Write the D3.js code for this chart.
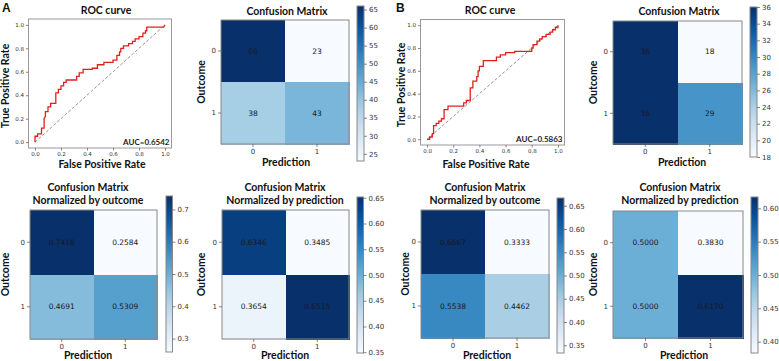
<!DOCTYPE html>
<html><head><meta charset="utf-8">
<script src="https://cdn.jsdelivr.net/npm/d3@7"></script>
<style>
html,body{margin:0;padding:0;background:#fff;}
svg{display:block;}
</style></head><body>
<svg id="chart" width="779" height="361"></svg>
<script>
// ---------------- data ----------------
const rocTicks = [0, 0.2, 0.4, 0.6, 0.8, 1.0];
const rocA_fpr = [0,0,0.02,0.02,0.05,0.05,0.07,0.07,0.08,0.08,0.10,0.10,0.12,0.12,0.16,0.16,0.18,0.18,0.20,0.20,0.22,0.22,0.24,0.24,0.32,0.32,0.34,0.34,0.37,0.37,0.44,0.44,0.48,0.48,0.53,0.53,0.60,0.60,0.63,0.63,0.65,0.65,0.66,0.66,0.68,0.68,0.72,0.72,0.75,0.75,0.77,0.77,0.80,0.80,0.83,0.83,0.85,0.85,0.86,0.86,0.99,1.0];
const rocA_tpr = [0,0.05,0.05,0.07,0.07,0.12,0.12,0.20,0.22,0.26,0.26,0.30,0.30,0.33,0.33,0.42,0.42,0.45,0.45,0.48,0.48,0.51,0.51,0.53,0.53,0.56,0.56,0.59,0.59,0.62,0.62,0.63,0.63,0.66,0.66,0.68,0.68,0.70,0.70,0.74,0.74,0.77,0.77,0.80,0.80,0.82,0.82,0.84,0.84,0.86,0.86,0.88,0.88,0.90,0.90,0.93,0.93,0.95,0.95,0.98,0.98,1.0];
const rocA_auc = "AUC=0.6542";
const rocB_fpr = [0,0.02,0.02,0.04,0.04,0.05,0.05,0.07,0.07,0.09,0.09,0.11,0.11,0.13,0.13,0.16,0.16,0.28,0.28,0.30,0.30,0.33,0.33,0.35,0.35,0.38,0.38,0.39,0.39,0.40,0.40,0.43,0.43,0.53,0.53,0.56,0.56,0.60,0.60,0.67,0.67,0.80,0.80,0.81,0.81,0.84,0.84,0.86,0.86,0.88,0.88,0.91,0.91,0.94,0.94,0.96,0.96,0.98,0.98,1.0,1.0];
const rocB_tpr = [0,0,0.02,0.02,0.05,0.05,0.12,0.12,0.14,0.14,0.16,0.16,0.18,0.18,0.26,0.26,0.29,0.29,0.32,0.32,0.34,0.34,0.45,0.45,0.51,0.51,0.55,0.55,0.60,0.60,0.64,0.64,0.69,0.69,0.72,0.72,0.74,0.74,0.76,0.76,0.77,0.77,0.80,0.80,0.83,0.83,0.86,0.86,0.88,0.88,0.90,0.90,0.92,0.92,0.94,0.94,0.96,0.96,0.98,0.98,1.0];
const rocB_auc = "AUC=0.5863";

const classLabels = ["0", "1"];
const cmA_counts       = [[66, 23], [38, 43]];
const cmA_byOutcome    = [[0.7416, 0.2584], [0.4691, 0.5309]];
const cmA_byPrediction = [[0.6346, 0.3485], [0.3654, 0.6515]];
const cmB_counts       = [[36, 18], [36, 29]];
const cmB_byOutcome    = [[0.6667, 0.3333], [0.5538, 0.4462]];
const cmB_byPrediction = [[0.5000, 0.3830], [0.5000, 0.6170]];

const cbTicksA_counts     = [25, 30, 35, 40, 45, 50, 55, 60, 65];
const cbTicksA_outcome    = [0.3, 0.4, 0.5, 0.6, 0.7];
const cbTicksA_prediction = [0.35, 0.40, 0.45, 0.50, 0.55, 0.60, 0.65];
const cbTicksB_counts     = [18, 20, 22, 24, 26, 28, 30, 32, 34, 36];
const cbTicksB_outcome    = [0.35, 0.40, 0.45, 0.50, 0.55, 0.60, 0.65];
const cbTicksB_prediction = [0.40, 0.45, 0.50, 0.55, 0.60];

// ---------------- drawing ----------------
const BLUES = ["#f7fbff","#deebf7","#c6dbef","#9ecae1","#6baed6","#4292c6","#2171b5","#08519c","#08306b"];
const svg = d3.select("#chart");
const LABEL_FONT = "Lato, 'Open Sans', sans-serif";
const TICK_FONT = "'DejaVu Sans', sans-serif";
let gradId = 0;

function styleAxis(g, size) {
  g.select(".domain").remove();
  g.selectAll(".tick line").attr("stroke", "#555").attr("stroke-width", 0.7);
  g.selectAll(".tick text").attr("font-family", TICK_FONT).attr("font-size", size).attr("fill", "#333");
}

function boldText(x, y, txt, size, rotate) {
  const t = svg.append("text")
    .attr("font-family", LABEL_FONT).attr("font-weight", "bold")
    .attr("font-size", size).attr("fill", "#111")
    .attr("text-anchor", "middle").text(txt);
  if (rotate) t.attr("transform", `translate(${x},${y}) rotate(-90)`);
  else t.attr("x", x).attr("y", y);
  return t;
}

function drawROC(o) {
  const x = d3.scaleLinear().domain([-0.05, 1.05]).range([o.L, o.R]);
  const y = d3.scaleLinear().domain([-0.05, 1.05]).range([o.B, o.T]);
  const g = svg.append("g");
  g.append("line")
    .attr("x1", x(0)).attr("y1", y(0)).attr("x2", x(1)).attr("y2", y(1))
    .attr("stroke", "#777").attr("stroke-width", 0.8).attr("stroke-dasharray", "3,2");
  const pts = o.fpr.map((f, i) => [f, o.tpr[i]]);
  g.append("path").datum(pts)
    .attr("d", d3.line().x(d => x(d[0])).y(d => y(d[1])))
    .attr("fill", "none").attr("stroke", "#e0201c").attr("stroke-width", 1.3);
  g.append("rect").attr("x", o.L).attr("y", o.T).attr("width", o.R - o.L).attr("height", o.B - o.T)
    .attr("fill", "none").attr("stroke", "#999").attr("stroke-width", 1);
  const ax = g.append("g").attr("transform", `translate(0,${o.B})`)
    .call(d3.axisBottom(x).tickValues(rocTicks).tickFormat(d3.format(".1f")).tickSize(2.5).tickPadding(2));
  styleAxis(ax, 5.5);
  const ay = g.append("g").attr("transform", `translate(${o.L},0)`)
    .call(d3.axisLeft(y).tickValues(rocTicks).tickFormat(d3.format(".1f")).tickSize(2.5).tickPadding(2));
  styleAxis(ay, 5.5);
  g.append("text").attr("x", o.R - 2).attr("y", o.B - 3)
    .attr("text-anchor", "end").attr("font-family", LABEL_FONT).attr("font-weight", "bold")
    .attr("font-size", 8).attr("fill", "#222").text(o.auc);
  boldText(o.titleX, 14, "ROC curve", 10.5);
  boldText(o.xlabX, 168, "False Positive Rate", 10.5);
  boldText(o.ylabX, o.ylabY, "True Positive Rate", 10.5, true);
  svg.append("text").attr("x", o.letterX).attr("y", 11.5)
    .attr("font-family", "'Liberation Sans', Arial, sans-serif").attr("font-weight", "bold")
    .attr("font-size", 12).attr("fill", "#111").text(o.letter);
}

function drawCM(o) {
  const vals = o.values.flat();
  const vmin = d3.min(vals), vmax = d3.max(vals);
  const color = d3.scaleLinear()
    .domain(BLUES.map((c, k) => vmin + (vmax - vmin) * k / (BLUES.length - 1)))
    .range(BLUES).interpolate(d3.interpolateRgb);
  const x = d3.scaleBand().domain(classLabels).range([o.L, o.L + o.W]);
  const y = d3.scaleBand().domain(classLabels).range([o.T, o.T + o.H]);
  const g = svg.append("g");
  const cells = [];
  o.values.forEach((row, i) => row.forEach((v, j) => cells.push({ i, j, v })));
  g.selectAll("rect.cell").data(cells).join("rect").attr("class", "cell")
    .attr("x", d => x(classLabels[d.j])).attr("y", d => y(classLabels[d.i]))
    .attr("width", x.bandwidth() + 0.5).attr("height", y.bandwidth() + 0.5)
    .attr("shape-rendering", "crispEdges")
    .attr("fill", d => color(d.v));
  g.selectAll("text.cell").data(cells).join("text").attr("class", "cell")
    .attr("x", d => x(classLabels[d.j]) + x.bandwidth() / 2)
    .attr("y", d => y(classLabels[d.i]) + y.bandwidth() / 2)
    .attr("dy", "0.35em").attr("text-anchor", "middle")
    .attr("font-family", TICK_FONT).attr("font-size", 7.5).attr("fill", "#1a1a1a")
    .text(d => o.fmt(d.v));
  g.append("rect").attr("x", o.L).attr("y", o.T).attr("width", o.W).attr("height", o.H)
    .attr("fill", "none").attr("stroke", "#888").attr("stroke-width", 1);
  const ax = g.append("g").attr("transform", `translate(0,${o.T + o.H})`)
    .call(d3.axisBottom(x).tickSize(3).tickPadding(2));
  styleAxis(ax, 7);
  const ay = g.append("g").attr("transform", `translate(${o.L},0)`)
    .call(d3.axisLeft(y).tickSize(3).tickPadding(2));
  styleAxis(ay, 7);

  // colorbar
  const id = "grad" + (gradId++);
  const grad = svg.append("defs").append("linearGradient").attr("id", id)
    .attr("x1", 0).attr("y1", 1).attr("x2", 0).attr("y2", 0);
  d3.range(0, 1.0001, 0.05).forEach(t => {
    grad.append("stop").attr("offset", t).attr("stop-color", color(vmin + (vmax - vmin) * t));
  });
  const cy = d3.scaleLinear().domain([vmin, vmax]).range([o.cbT + o.cbH, o.cbT]);
  g.append("rect").attr("x", o.cbL).attr("y", o.cbT).attr("width", o.cbW).attr("height", o.cbH)
    .attr("fill", `url(#${id})`).attr("stroke", "#888").attr("stroke-width", 1);
  const ac = g.append("g").attr("transform", `translate(${o.cbL + o.cbW},0)`)
    .call(d3.axisRight(cy).tickValues(o.cbTicks).tickFormat(o.cbFmt).tickSize(3).tickPadding(2));
  styleAxis(ac, 7);

  o.title.forEach((t, k) => boldText(o.titleX, o.titleY + k * 13, t, 10.5));
  boldText(o.predX, o.predY, "Prediction", 10.5);
  boldText(o.outX, o.T + o.H / 2, "Outcome", 10.5, true);
}

// Panel A
drawROC({ L: 28.5, R: 171.5, T: 19, B: 148, fpr: rocA_fpr, tpr: rocA_tpr, auc: rocA_auc,
  titleX: 106, xlabX: 102, ylabX: 9, ylabY: 86, letter: "A", letterX: 2 });
drawCM({ values: cmA_counts, fmt: d3.format("d"), L: 221, T: 20, W: 128, H: 124,
  cbL: 357, cbT: 6, cbW: 7, cbH: 155, cbTicks: cbTicksA_counts, cbFmt: d3.format("d"),
  title: ["Confusion Matrix"], titleX: 287, titleY: 14.5, predX: 286, predY: 165.5, outX: 205 });
drawCM({ values: cmA_byOutcome, fmt: d3.format(".4f"), L: 30, T: 210, W: 127, H: 129,
  cbL: 166, cbT: 196, cbW: 6.5, cbH: 156, cbTicks: cbTicksA_outcome, cbFmt: d3.format(".1f"),
  title: ["Confusion Matrix", "Normalized by outcome"], titleX: 88, titleY: 191, predX: 88, predY: 358.5, outX: 9 });
drawCM({ values: cmA_byPrediction, fmt: d3.format(".4f"), L: 222, T: 210, W: 127, H: 129,
  cbL: 357, cbT: 197, cbW: 6.5, cbH: 156, cbTicks: cbTicksA_prediction, cbFmt: d3.format(".2f"),
  title: ["Confusion Matrix", "Normalized by prediction"], titleX: 285, titleY: 191, predX: 285, predY: 358.5, outX: 205 });

// Panel B
drawROC({ L: 420.5, R: 564.5, T: 19.5, B: 145, fpr: rocB_fpr, tpr: rocB_tpr, auc: rocB_auc,
  titleX: 490, xlabX: 486, ylabX: 405, ylabY: 85, letter: "B", letterX: 396 });
drawCM({ values: cmB_counts, fmt: d3.format("d"), L: 613, T: 21, W: 129, H: 123,
  cbL: 750, cbT: 7, cbW: 7, cbH: 150, cbTicks: cbTicksB_counts, cbFmt: d3.format("d"),
  title: ["Confusion Matrix"], titleX: 679, titleY: 14.5, predX: 682, predY: 166, outX: 597 });
drawCM({ values: cmB_byOutcome, fmt: d3.format(".4f"), L: 421, T: 210, W: 128, H: 128,
  cbL: 557, cbT: 198, cbW: 7, cbH: 155, cbTicks: cbTicksB_outcome, cbFmt: d3.format(".2f"),
  title: ["Confusion Matrix", "Normalized by outcome"], titleX: 485, titleY: 191, predX: 487, predY: 358.5, outX: 408.5 });
drawCM({ values: cmB_byPrediction, fmt: d3.format(".4f"), L: 613, T: 211, W: 130, H: 127,
  cbL: 751, cbT: 197, cbW: 7, cbH: 156, cbTicks: cbTicksB_prediction, cbFmt: d3.format(".2f"),
  title: ["Confusion Matrix", "Normalized by prediction"], titleX: 680, titleY: 191, predX: 684, predY: 358.5, outX: 597 });
</script>
</body></html>
